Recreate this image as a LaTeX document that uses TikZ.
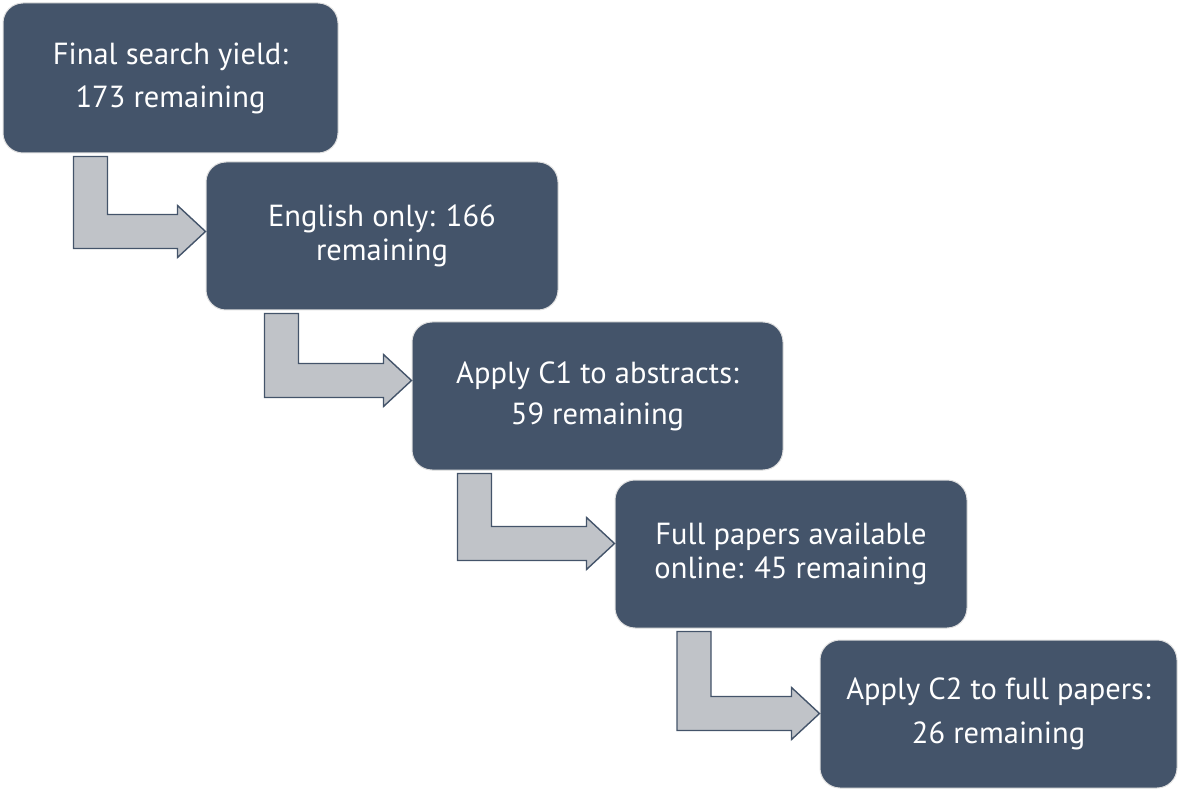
\documentclass[tikz,border=0pt]{standalone}
\usepackage{fontspec}
\setmainfont{PT Sans}
\usetikzlibrary{calc}

\definecolor{slate}{HTML}{44546A}
\definecolor{arrowgray}{HTML}{C0C3C8}

% bent arrow: source, target, stem shift from source SW, bar shift from target west
\newcommand{\stepArrow}[4]{%
  \draw[bentarrow] let \p1=($(#1.south west)+(#3,-3)$), \p2=($(#2.west)+(0,#4)$) in
    (\x1-17pt,\y1) -- (\x1+17pt,\y1) -- (\x1+17pt,\y2+17pt) -- (\x2-28pt,\y2+17pt)
    -- (\x2-28pt,\y2+26pt) -- (\x2,\y2) -- (\x2-28pt,\y2-26pt) -- (\x2-28pt,\y2-17pt)
    -- (\x1-17pt,\y2-17pt) -- cycle;}

\begin{document}
\begin{tikzpicture}[x=1pt, y=1pt,
    stage/.style={draw=gray!25, line width=1pt, fill=slate, rounded corners=20pt,
      text=white, align=center, inner sep=0pt, minimum height=148,
      font=\fontsize{30.5}{34}\selectfont},
    bentarrow/.style={draw=slate, line width=1.4pt, fill=arrowgray, line join=miter}]
    \useasboundingbox (0,0) rectangle (1181,-794);

    \node[stage, minimum width=335, minimum height=150] (yield)    at (170.5,-78)  {Final search yield:\\[9pt]173 remaining};
    \node[stage, minimum width=352]                     (english)  at (382,-236)   {English only: 166\\remaining};
    \node[stage, minimum width=371]                     (abstract) at (597.5,-396) {Apply C1 to abstracts:\\[7pt]59 remaining};
    \node[stage, minimum width=352]                     (online)   at (791,-554)   {Full papers available\\online: 45 remaining};
    \node[stage, minimum width=357]                     (fullpap)  at (998.5,-714) {Apply C2 to full papers:\\[10pt]26 remaining};

    \stepArrow{yield}{english}{88}{4.5}
    \stepArrow{english}{abstract}{76}{15.5}
    \stepArrow{abstract}{online}{63}{10.5}
    \stepArrow{online}{fullpap}{79.5}{0.5}
\end{tikzpicture}
\end{document}
